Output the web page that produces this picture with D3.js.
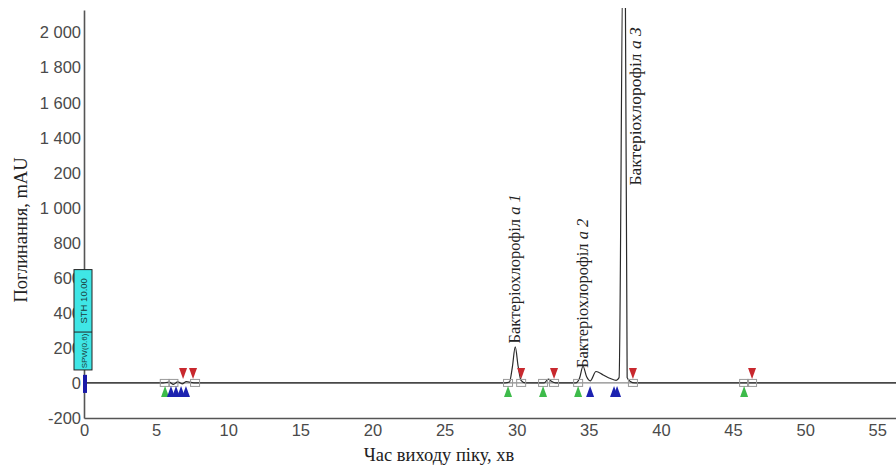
<!DOCTYPE html>
<html>
<head>
<meta charset="utf-8">
<script src="https://cdn.jsdelivr.net/npm/d3@7"></script>
<style>
  body { margin: 0; background: #fff; }
  svg { display: block; }
</style>
</head>
<body>
<div id="chart"></div>
<script>
const width = 896;
const height = 466;

// chromatogram trace (time, min / absorbance, mAU)
const traceTime = [0, 5.5, 5.9, 6.2, 6.5, 6.8, 7.1, 7.4, 7.8, 29.2, 29.5, 29.7, 29.9, 30.1, 30.3, 30.6, 31.9, 32.2, 32.4, 32.7,
  34.1, 34.35, 34.6, 34.85, 35.1, 35.5, 36.0, 36.5, 36.9, 37.1, 37.38, 37.52, 37.66, 37.85, 38.2, 56.3];
const traceValue = [0, 0, 5, -8, 6, -5, 8, 3, 0, 0, 5, 90, 205, 95, 15, 0, 0, 22, 10, 0,
  0, 25, 95, 35, 12, 65, 45, 25, 15, 30, 2500, 2500, 30, 10, 0, 0];

// integration markers (time, min)
const peakStarts = [5.62, 29.40, 31.83, 34.26, 45.77];
const valleys = [6.03, 6.38, 6.73, 7.07, 35.09, 36.75, 36.96];
const peakEnds = [6.87, 7.56, 30.31, 32.59, 38.06, 46.32];
const boxTimes = [5.6, 6.2, 7.7, 29.4, 30.31, 31.83, 32.59, 34.26, 38.06, 45.77, 46.32];

// peak names
const peakLabelTime = [29.85, 34.6, 38.25];
const peakLabelBase = [225, 85, 1125];
const peakLabelSuffix = ["a 1", "a 2", "a 3"];

// axis ticks
const xTicks = [0, 5, 10, 15, 20, 25, 30, 35, 40, 45, 50, 55];
const yTicks = [-200, 0, 200, 400, 600, 800, 1000, 1200, 1400, 1600, 1800, 2000];
const yTickLabels = ["-200", "0", "200", "400", "600", "800", "1 000", "200", "1 400", "1 600", "1 800", "2 000"];

const svg = d3.select("#chart")
    .append("svg")
    .attr("width", width)
    .attr("height", height);

const x = d3.scaleLinear().domain([0, 56.3]).range([84, 896]);
const y = d3.scaleLinear().domain([-200, 2126]).range([418, 10]);

svg.append("defs").append("clipPath")
    .attr("id", "plot-clip")
    .append("rect")
    .attr("x", 84).attr("y", 8)
    .attr("width", width - 84).attr("height", 410);

// axes
const yAxis = svg.append("g")
    .attr("transform", "translate(84,0)")
    .call(d3.axisLeft(y).tickValues(yTicks).tickSize(0).tickPadding(3)
        .tickFormat((d, i) => yTickLabels[i]));

const xAxis = svg.append("g")
    .attr("transform", "translate(0,418)")
    .call(d3.axisBottom(x).tickValues(xTicks).tickSize(0).tickPadding(6));

[xAxis, yAxis].forEach(g => {
    g.select(".domain").attr("stroke", "#555").attr("stroke-width", 1.6);
    g.selectAll("text")
        .attr("font-family", "Liberation Sans, Arial, sans-serif")
        .attr("font-size", 16.5)
        .attr("fill", "#4a4a4a");
});
yAxis.selectAll("text").attr("dy", "0.35em");

// axis titles
svg.append("text")
    .attr("transform", "translate(27,230) rotate(-90)")
    .attr("text-anchor", "middle")
    .attr("font-family", "Liberation Serif, Times New Roman, serif")
    .attr("font-size", 18.5)
    .attr("fill", "#222")
    .text("Поглинання, mAU");

svg.append("text")
    .attr("x", 439)
    .attr("y", 461)
    .attr("text-anchor", "middle")
    .attr("font-family", "Liberation Serif, Times New Roman, serif")
    .attr("font-size", 18.5)
    .attr("fill", "#222")
    .text("Час виходу піку, хв");

const plot = svg.append("g").attr("clip-path", "url(#plot-clip)");

// baseline
plot.append("line")
    .attr("x1", x(0)).attr("x2", x(56.3))
    .attr("y1", y(0)).attr("y2", y(0))
    .attr("stroke", "#888")
    .attr("stroke-width", 1.4);

// trace
const traceData = traceTime.map((t, i) => ({t: t, v: traceValue[i]}));
plot.append("path")
    .datum(traceData)
    .attr("fill", "none")
    .attr("stroke", "#2a2a2a")
    .attr("stroke-width", 1.2)
    .attr("d", d3.line().x(d => x(d.t)).y(d => y(d.v)).curve(d3.curveMonotoneX));

// integration boxes
plot.selectAll("rect.box")
    .data(boxTimes)
    .enter().append("rect")
    .attr("class", "box")
    .attr("x", d => x(d) - 4.5)
    .attr("y", y(0) - 3.5)
    .attr("width", 9)
    .attr("height", 7)
    .attr("fill", "none")
    .attr("stroke", "#999")
    .attr("stroke-width", 1);

const base = y(0);
const upTri = t => `M${x(t) - 4},${base + 14}L${x(t) + 4},${base + 14}L${x(t)},${base + 3}Z`;
const downTri = t => `M${x(t) - 4},${base - 15}L${x(t) + 4},${base - 15}L${x(t)},${base - 4}Z`;

plot.selectAll("path.start")
    .data(peakStarts)
    .enter().append("path")
    .attr("class", "start")
    .attr("d", upTri)
    .attr("fill", "#3dbb4a");

plot.selectAll("path.valley")
    .data(valleys)
    .enter().append("path")
    .attr("class", "valley")
    .attr("d", upTri)
    .attr("fill", "#1c22b0");

plot.selectAll("path.end")
    .data(peakEnds)
    .enter().append("path")
    .attr("class", "end")
    .attr("d", downTri)
    .attr("fill", "#c8282e");

// event marker at t = 0
svg.append("rect")
    .attr("x", x(0) - 1)
    .attr("y", y(46))
    .attr("width", 4)
    .attr("height", y(-57) - y(46))
    .attr("fill", "#1a1aa8");

const boxG = svg.append("g");
boxG.append("rect")
    .attr("x", x(0) - 10)
    .attr("y", y(646))
    .attr("width", 18)
    .attr("height", y(74) - y(646))
    .attr("fill", "#3fe6e6")
    .attr("stroke", "#222")
    .attr("stroke-width", 1);
boxG.append("line")
    .attr("x1", x(0) - 10).attr("x2", x(0) + 8)
    .attr("y1", y(290)).attr("y2", y(290))
    .attr("stroke", "#222");
boxG.append("text")
    .attr("transform", `translate(${x(0) + 2.5},${(y(290) + y(74)) / 2}) rotate(-90)`)
    .attr("text-anchor", "middle")
    .attr("font-family", "Liberation Sans, Arial, sans-serif")
    .attr("font-size", 8)
    .attr("fill", "#1a3a3a")
    .text("SPW(0.6)");
boxG.append("text")
    .attr("transform", `translate(${x(0) + 2.5},${(y(646) + y(290)) / 2}) rotate(-90)`)
    .attr("text-anchor", "middle")
    .attr("font-family", "Liberation Sans, Arial, sans-serif")
    .attr("font-size", 9.5)
    .attr("fill", "#1a3a3a")
    .text("STH 10.00");

// peak labels
peakLabelTime.forEach((t, i) => {
    const label = svg.append("text")
        .attr("transform", `translate(${x(t) + 5},${y(peakLabelBase[i])}) rotate(-90)`)
        .attr("font-family", "Liberation Serif, Times New Roman, serif")
        .attr("font-size", i === 2 ? 17.5 : 16.5)
        .attr("fill", "#222")
        .text("Бактеріохлорофіл ");
    label.append("tspan")
        .attr("font-style", "italic")
        .text(peakLabelSuffix[i]);
});
</script>
</body>
</html>
